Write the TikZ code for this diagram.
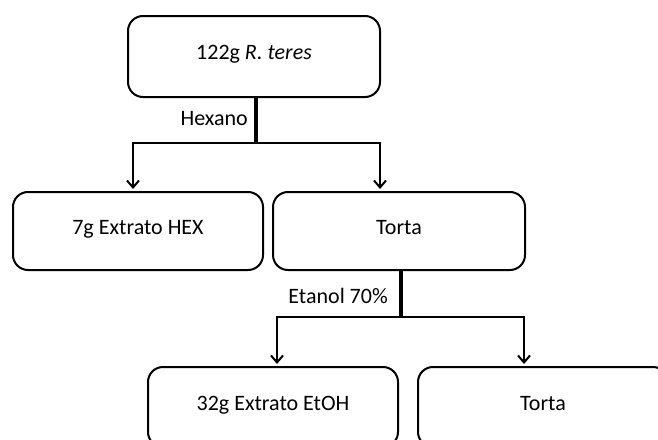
\documentclass[tikz,border=0pt]{standalone}
\usepackage{fontspec}
\setmainfont{Carlito}
\usetikzlibrary{arrows.meta}
\begin{document}
\begin{tikzpicture}[x=1pt,y=-1pt,
  box/.style={draw=black,line width=2pt,rounded corners=15pt,fill=white,inner sep=0pt,text height=0.63em,text depth=0pt,font=\fontsize{22}{26}\selectfont},
  trunk/.style={line width=4pt},
  branch/.style={line width=2pt,-{Straight Barb[length=7pt,width=12pt,line width=2pt]}},
  lbl/.style={font=\fontsize{22}{26}\selectfont,inner sep=0pt,text height=0.63em,text depth=0pt}]
\useasboundingbox (0,0) rectangle (658,439);
\clip (0,0) rectangle (658,439);
\fill[white] (0,0) rectangle (658,439);
\node[box,minimum width=252pt,minimum height=81pt] (top) at (254,56.5) {122g \textit{R. teres}};
\node[box,minimum width=250pt,minimum height=78pt] (hex) at (138,231) {7g Extrato HEX};
\node[box,minimum width=252pt,minimum height=78pt] (torta1) at (399,231) {Torta};
\node[box,minimum width=250pt,minimum height=80pt] (etoh) at (273,407) {32g Extrato EtOH};
\node[box,minimum width=250pt,minimum height=80pt] (torta2) at (543,407) {Torta};
\coordinate (j1) at (256,143);
\coordinate (a1) at (133,189);
\coordinate (a2) at (380,189);
\coordinate (j2) at (401,317);
\coordinate (b1) at (277,364);
\coordinate (b2) at (524,364);
\draw[trunk] (top.south -| j1) -- (j1);
\draw[branch] (j1) -| (a1);
\draw[branch] (j1) -| (a2);
\draw[trunk] (torta1.south -| j2) -- (j2);
\draw[branch] (j2) -| (b1);
\draw[branch] (j2) -| (b2);
\node[lbl,anchor=east] (hexano) at (248,122) {Hexano};
\node[lbl,anchor=east] (etanol) at (388,300) {Etanol 70\%};
\end{tikzpicture}
\end{document}
